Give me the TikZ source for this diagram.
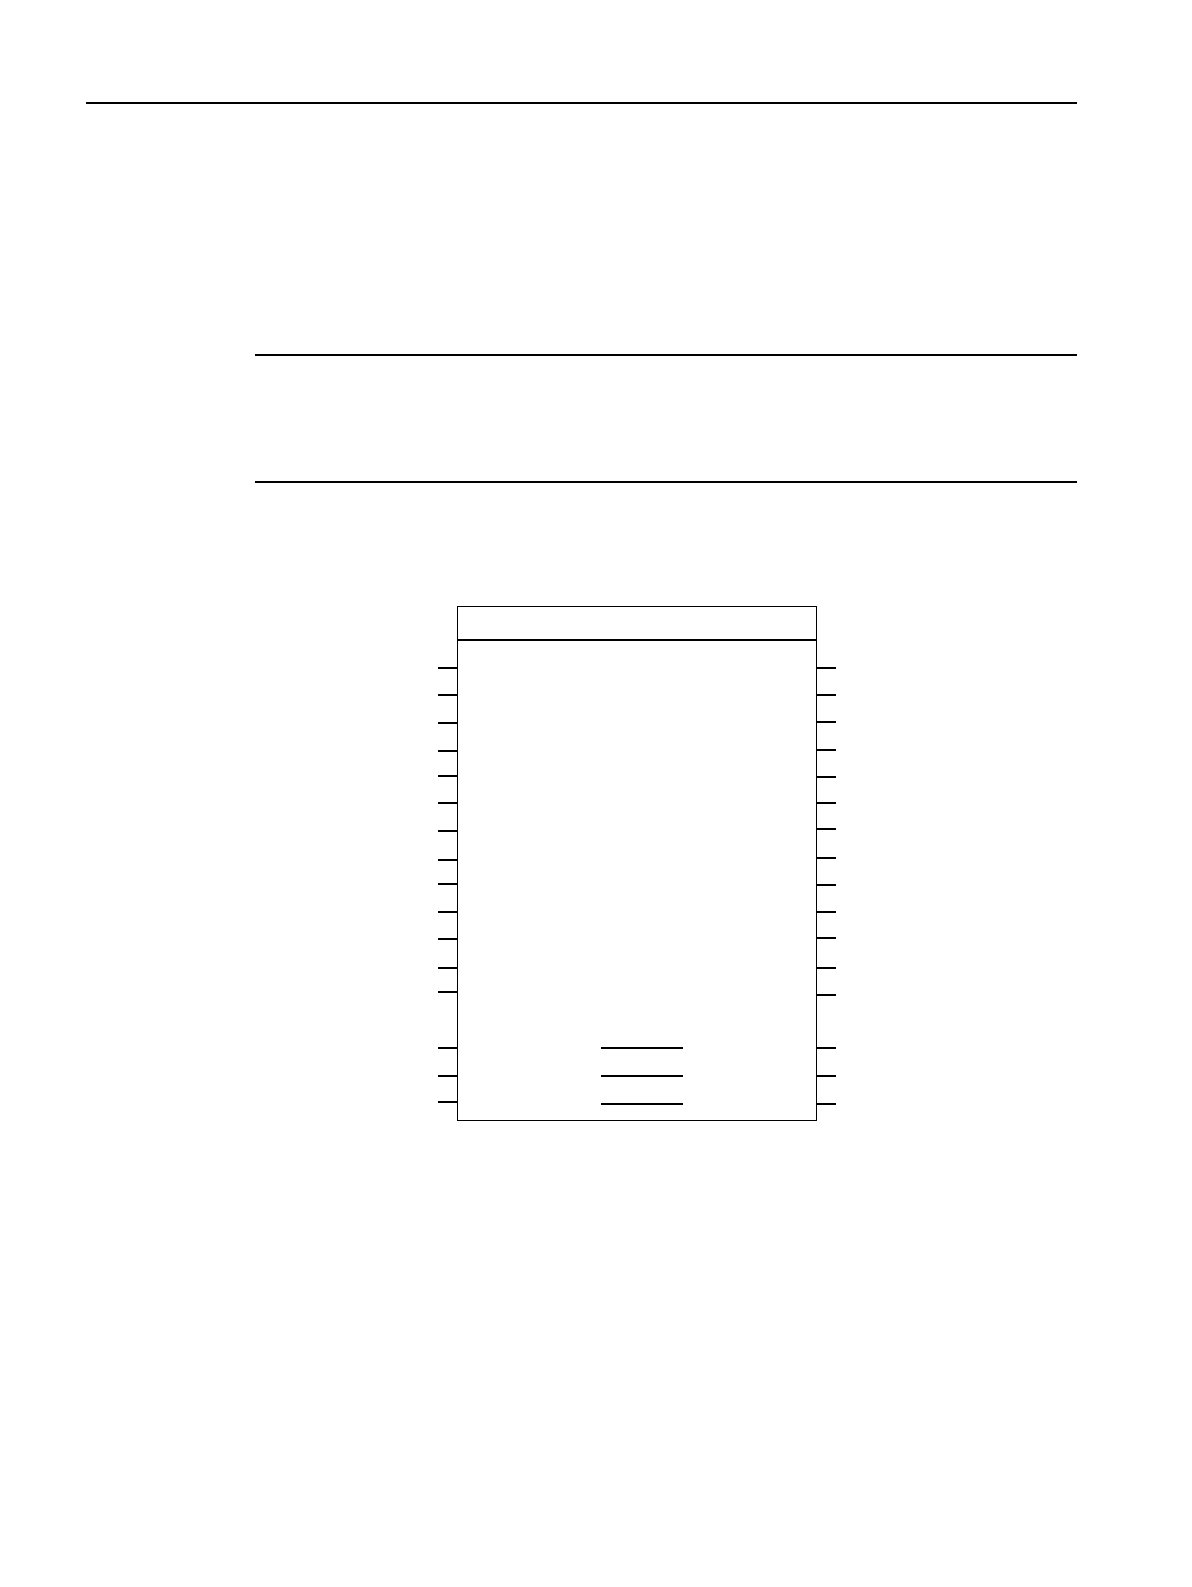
\documentclass[tikz,border=0pt]{standalone}
\begin{document}
\begin{tikzpicture}[x=0.5pt,y=-0.5pt,
  rule/.style={line width=0.65pt},
  boxline/.style={line width=0.65pt},
  thinpin/.style={line width=0.6pt},
  thickpin/.style={line width=1.05pt}]
\useasboundingbox (0,0) rectangle (1191,1587);
% horizontal rules
\draw[rule] (86,103) -- (1077,103);
\draw[rule] (255,355) -- (1077,355);
\draw[rule] (255,482) -- (1077,482);
% chip box
\node[draw,boxline,minimum width=179.5pt,minimum height=257pt,inner sep=0pt,anchor=north west] (chip) at (457,606) {};
\coordinate (hl) at (457,640);
\coordinate (hr) at (816,640);
\draw[boxline] (hl) -- (hr);
% left pins
\foreach \y/\s in {668/thickpin,695/thinpin,723/thinpin,751/thinpin,776/thickpin,803/thinpin,831/thinpin,860/thickpin,884/thinpin,912/thickpin,939/thinpin,968/thickpin,992/thinpin,1048/thickpin,1076/thickpin,1102/thickpin}
  \draw[\s] (438,\y) -- (457,\y);
% right pins
\foreach \y/\s in {668/thickpin,695/thinpin,722/thinpin,750/thinpin,777/thickpin,803/thickpin,829/thinpin,858/thinpin,885/thinpin,912/thickpin,938/thickpin,968/thickpin,995/thickpin,1048/thinpin,1076/thinpin,1104/thickpin}
  \draw[\s] (816,\y) -- (836,\y);
% inner lines
\foreach \y in {1048,1076,1104}
  \draw[thickpin] (601,\y) -- (683,\y);
\end{tikzpicture}
\end{document}
